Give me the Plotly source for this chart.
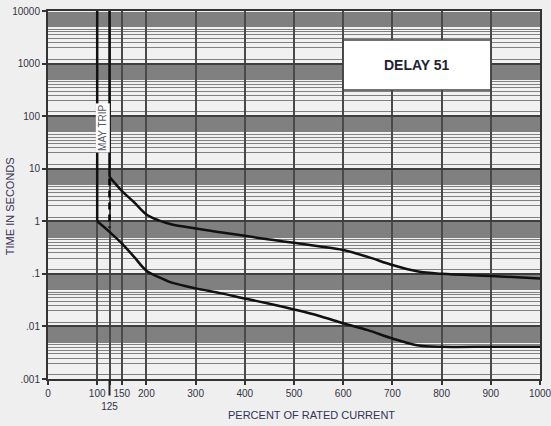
import math
import plotly.graph_objects as go

# ---- data ----
upper_x = [125, 150, 175, 200, 225, 250, 300, 350, 400, 450, 500, 550, 600, 650, 700, 750, 800, 900, 1000]
upper_y = [7, 3.8, 2.3, 1.35, 1.04, 0.88, 0.73, 0.62, 0.53, 0.45, 0.39, 0.335, 0.284, 0.21, 0.147, 0.112, 0.10, 0.091, 0.082]
lower_x = [100, 125, 150, 175, 200, 225, 250, 300, 350, 400, 450, 500, 550, 600, 650, 700, 750, 800, 900, 1000]
lower_y = [1.0, 0.63, 0.38, 0.21, 0.115, 0.087, 0.069, 0.053, 0.043, 0.034, 0.027, 0.021, 0.016, 0.0115, 0.0085, 0.0059, 0.0044, 0.0041, 0.0041, 0.0041]
upper_vert_x = [125, 125]
upper_vert_y = [10000, 7]
lower_vert_x = [100, 100]
lower_vert_y = [10000, 1.0]
dash_x = [125, 125]
dash_y = [6.5, 0.75]

x_tickvals = [0, 100, 125, 150, 200, 300, 400, 500, 600, 700, 800, 900, 1000]
x_ticktext = ["0", "100", "<br>125", "150", "200", "300", "400", "500", "600", "700", "800", "900", "1000"]
y_tickvals = [0.001, 0.01, 0.1, 1, 10, 100, 1000, 10000]
y_ticktext = [".001", ".01", ".1", "1", "10", "100", "1000", "10000"]
minor_k = [1.2, 2, 2.5, 3, 3.5, 4, 4.5] + [5 + 0.2 * i for i in range(25)]
minor_vals = [k * 10 ** d for d in range(-3, 4) for k in minor_k]

fig = go.Figure()
line = dict(color="#111111", width=2.5)
fig.add_trace(go.Scatter(x=lower_vert_x, y=lower_vert_y, mode="lines", line=line, hoverinfo="skip"))
fig.add_trace(go.Scatter(x=upper_vert_x, y=upper_vert_y, mode="lines", line=line, hoverinfo="skip"))
fig.add_trace(go.Scatter(x=dash_x, y=dash_y, mode="lines", line=dict(color="#000000", width=2.5, dash="7px,5px"), hoverinfo="skip"))
fig.add_trace(go.Scatter(x=upper_x, y=upper_y, mode="lines", line=dict(color="#111111", width=2.5, shape="spline", smoothing=1.0)))
fig.add_trace(go.Scatter(x=lower_x, y=lower_y, mode="lines", line=dict(color="#111111", width=2.5, shape="spline", smoothing=0.9)))

tickfont = dict(family="Liberation Sans, Arial", size=10, color="#333344")
fig.update_layout(
    width=551, height=426,
    margin=dict(l=48, r=11, t=11, b=47),
    paper_bgcolor="#efefef", plot_bgcolor="#f1f1f1",
    showlegend=False,
    xaxis=dict(range=[0, 1000.01], tickvals=x_tickvals, ticktext=x_ticktext, tickfont=tickfont, tickangle=0,
               ticklabeloverflow="allow",
               showgrid=True, gridcolor="#4a4a4a", gridwidth=2, zeroline=False, automargin=False,
               showline=True, mirror=True, linecolor="#333333", linewidth=2,
               ticks="outside", ticklen=4, tickcolor="#333333", tickwidth=1.5),
    yaxis=dict(type="log", range=[-3, 4], tickvals=y_tickvals, ticktext=y_ticktext, tickfont=tickfont,
               ticklabeloverflow="allow",
               showgrid=True, gridcolor="#3e3e3e", gridwidth=2, zeroline=False, automargin=False,
               showline=True, mirror=True, linecolor="#333333", linewidth=2,
               ticks="outside", ticklen=4, tickcolor="#333333", tickwidth=1.5,
               minor=dict(tickvals=minor_vals, showgrid=True, gridcolor="#808080", gridwidth=1, ticks="")),
)

# longer tick at 125
fig.add_shape(type="line", xref="x", yref="paper", x0=125, x1=125, y0=0, y1=-0.045,
              line=dict(color="#222222", width=2))
# DELAY box
fig.add_shape(type="rect", xref="paper", yref="paper", x0=0.6, x1=0.9, y0=0.785, y1=0.921,
              fillcolor="white", line=dict(color="#444444", width=1.5), layer="above")
fig.add_annotation(xref="paper", yref="paper", x=0.75, y=0.853, xanchor="center", yanchor="middle",
                   text="<b>DELAY 51</b>",
                   showarrow=False, font=dict(family="Liberation Sans, Arial", size=14, color="#222233"))
# MAY TRIP
fig.add_annotation(xref="x", yref="y", x=112, y=math.log10(60), xanchor="center", yanchor="middle",
                   text="MAY TRIP", textangle=-90,
                   showarrow=False, bgcolor="white", borderpad=1,
                   font=dict(family="Liberation Sans, Arial", size=10, color="#555566"))
# axis titles
fig.add_annotation(xref="paper", yref="paper", x=0.535, y=-0.098, xanchor="center", yanchor="middle",
                   text="PERCENT OF RATED CURRENT",
                   showarrow=False, font=dict(family="Liberation Sans, Arial", size=11, color="#333355"))
fig.add_annotation(xref="paper", yref="paper", x=-0.077, xanchor="center", yanchor="middle", y=0.47,
                   text="TIME IN SECONDS",
                   textangle=-90, showarrow=False, font=dict(family="Liberation Sans, Arial", size=11, color="#333355"))

fig.write_html("out.html", post_script="document.body.style.margin='0';",
               config={"displayModeBar": False})
